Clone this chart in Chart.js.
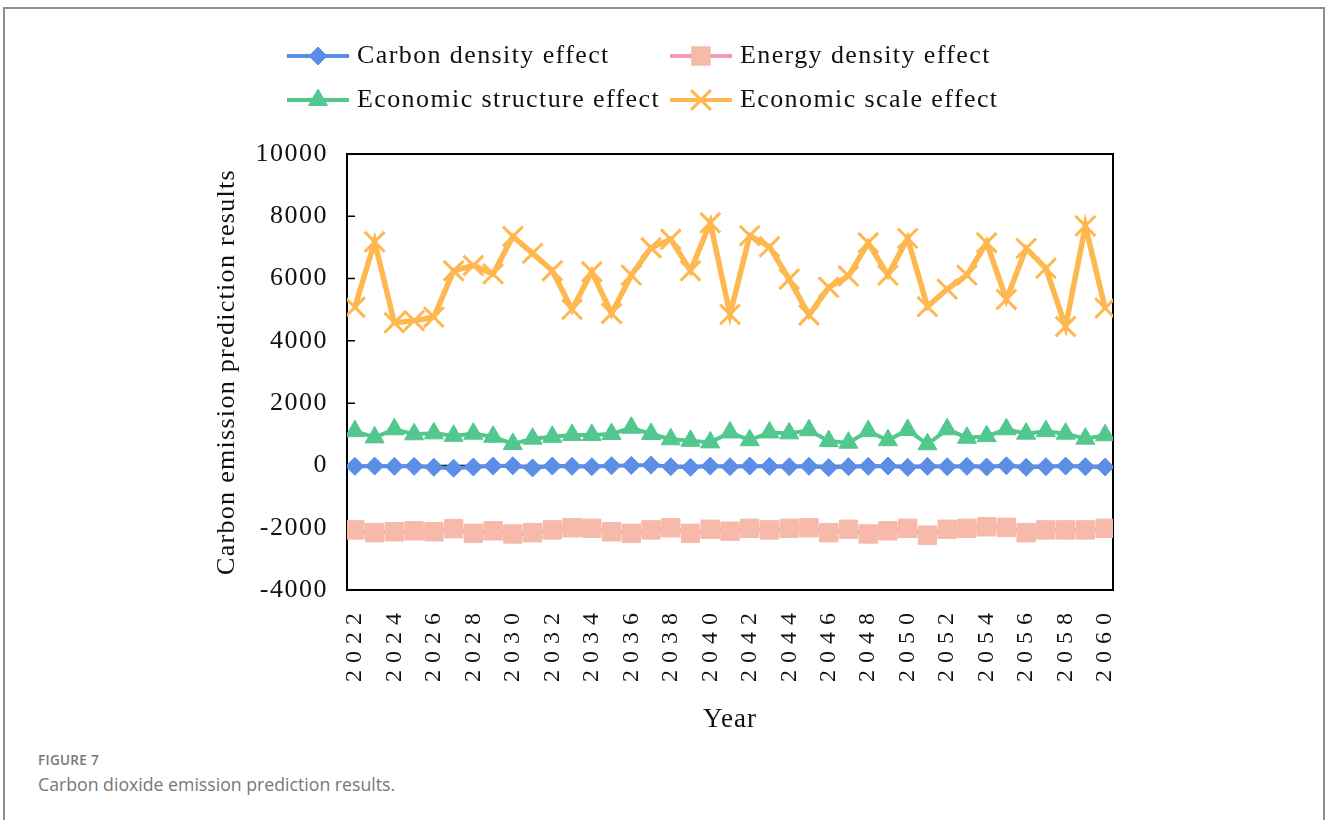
<!DOCTYPE html>
<html>
<head>
<meta charset="utf-8">
<script src="https://cdn.jsdelivr.net/npm/chart.js@4.4.0/dist/chart.umd.min.js"></script>
<style>
  body { margin: 0; background: #fff; width: 1327px; height: 820px; overflow: hidden; position: relative; }
  .frame { position: absolute; left: 3px; top: 7px; width: 1322px; height: 900px; border: 2px solid #8e8e8e; box-sizing: border-box; }
  #chart { position: absolute; left: 0; top: 0; }
  .cap-title { position: absolute; left: 38px; top: 751px; font-family: "Open Sans"; font-size: 13.5px; font-weight: 600; color: #777; letter-spacing: 0.3px; }
  .cap-text { position: absolute; left: 38px; top: 772px; font-family: "Open Sans"; font-size: 17.7px; color: #777; }
</style>
</head>
<body>
<div class="frame"></div>
<canvas id="chart" width="1327" height="740"></canvas>
<div class="cap-title">FIGURE 7</div>
<div class="cap-text">Carbon dioxide emission prediction results.</div>
<script>
// data
const years = [2022, 2023, 2024, 2025, 2026, 2027, 2028, 2029, 2030, 2031,
               2032, 2033, 2034, 2035, 2036, 2037, 2038, 2039, 2040, 2041,
               2042, 2043, 2044, 2045, 2046, 2047, 2048, 2049, 2050, 2051,
               2052, 2053, 2054, 2055, 2056, 2057, 2058, 2059, 2060];
const yearTicks = [2022, 2024, 2026, 2028, 2030, 2032, 2034, 2036, 2038, 2040,
                   2042, 2044, 2046, 2048, 2050, 2052, 2054, 2056, 2058, 2060];
const valueTicks = [-4000, -2000, 0, 2000, 4000, 6000, 8000, 10000];

const carbonDensity = [-30, -20, -30, -30, -60, -90, -50, -20, -10, -80,
                       -20, -30, -40, -10, 0, 10, -40, -60, -20, -40,
                       -20, -30, -40, -30, -70, -40, -30, -20, -60, -30,
                       -40, -30, -50, -10, -60, -40, -20, -40, -50];
const energyDensity = [-2070, -2160, -2130, -2100, -2130, -2030, -2180, -2100, -2200, -2160,
                       -2070, -2000, -2020, -2130, -2180, -2070, -2000, -2180, -2050, -2110,
                       -2020, -2070, -2020, -2000, -2160, -2050, -2200, -2100, -2020, -2240,
                       -2050, -2020, -1970, -1990, -2160, -2070, -2070, -2070, -2020];
const economicStructure = [1100, 900, 1160, 1000, 1030, 950, 1020, 920, 690, 860,
                           920, 980, 980, 1010, 1210, 1010, 840, 790, 740, 1060,
                           810, 1060, 1030, 1130, 780, 730, 1100, 810, 1140, 680,
                           1160, 890, 940, 1160, 1020, 1100, 1020, 860, 970];
const economicScale = [5080, 7180, 4580, 4650, 4760, 6250, 6420, 6150, 7350, 6810,
                       6250, 5010, 6220, 4880, 6110, 6990, 7260, 6250, 7790, 4850,
                       7380, 7020, 5980, 4830, 5720, 6080, 7150, 6110, 7290, 5100,
                       5660, 6110, 7150, 5330, 6970, 6330, 4460, 7690, 5050];

const serif = "'Liberation Serif', 'Times New Roman', serif";

function pts(arr) {
    return years.map((yr, i) => ({ x: yr, y: arr[i] }));
}

// widen the letters a little, like the original export
function spaceOut(scale, labelGap, titleGap) {
    if (scale._spaced) return;
    scale._spaced = true;
    const dl = scale.drawLabels, dt = scale.drawTitle;
    scale.drawLabels = function (a) {
        this.ctx.save(); this.ctx.letterSpacing = labelGap; dl.call(this, a); this.ctx.restore();
    };
    scale.drawTitle = function () {
        this.ctx.save(); this.ctx.letterSpacing = titleGap; dt.call(this); this.ctx.restore();
    };
}

const boxPlugin = {
    id: "boxPlugin",
    beforeDraw(chart) {
        spaceOut(chart.scales.x, "7px", "1px");
        spaceOut(chart.scales.y, "1.5px", "1.3px");
    },
    beforeDatasetsDraw(chart) {
        const { ctx, chartArea: a, scales: { y } } = chart;
        ctx.save();
        ctx.strokeStyle = "#000";
        ctx.lineWidth = 1.5;
        const y0 = y.getPixelForValue(0);
        ctx.beginPath();
        ctx.moveTo(a.left, y0); ctx.lineTo(a.right, y0);
        y.ticks.forEach(t => {
            const py = y.getPixelForValue(t.value);
            ctx.moveTo(a.left, py); ctx.lineTo(a.left + 8, py);
        });
        ctx.stroke();
        ctx.lineWidth = 2;
        ctx.strokeRect(a.left, a.top, a.right - a.left, a.bottom - a.top);
        ctx.restore();
    }
};

// legend laid out as a 2x2 grid
const legendCols = [287, 670];
const legendRows = [56, 100];
const legendPlugin = {
    id: "legendPlugin",
    afterDraw(chart) {
        const ctx = chart.ctx;
        ctx.save();
        chart.data.datasets.forEach((ds, i) => {
            const x0 = legendCols[i % 2], yy = legendRows[Math.floor(i / 2)];
            ctx.strokeStyle = ds.borderColor;
            ctx.lineWidth = 4;
            ctx.beginPath();
            ctx.moveTo(x0, yy); ctx.lineTo(x0 + 62, yy);
            ctx.stroke();
            ctx.fillStyle = ds.pointBackgroundColor;
            ctx.strokeStyle = ds.pointBorderColor;
            ctx.lineWidth = ds.pointBorderWidth;
            Chart.helpers.drawPoint(ctx, { pointStyle: ds.pointStyle, radius: ds.pointRadius, borderWidth: ds.pointBorderWidth, rotation: 0 }, x0 + 31, yy);
            ctx.fillStyle = "#111";
            ctx.font = "26px " + serif;
            ctx.letterSpacing = "1.4px";
            ctx.textBaseline = "middle";
            ctx.textAlign = "left";
            ctx.fillText(ds.label, x0 + 70, yy);
        });
        ctx.restore();
    }
};

new Chart(document.getElementById("chart"), {
    type: "line",
    data: {
        datasets: [
            {
                label: "Carbon density effect",
                data: pts(carbonDensity),
                borderColor: "#5b8ee6", borderWidth: 4,
                pointStyle: "rectRot", pointRadius: 9,
                pointBackgroundColor: "#5b8ee6", pointBorderColor: "#5b8ee6", pointBorderWidth: 1
            },
            {
                label: "Energy density effect",
                data: pts(energyDensity),
                borderColor: "#f19cae", borderWidth: 4,
                pointStyle: "rect", pointRadius: 13,
                pointBackgroundColor: "#f6b9aa", pointBorderColor: "#f6b9aa", pointBorderWidth: 1
            },
            {
                label: "Economic structure effect",
                data: pts(economicStructure),
                borderColor: "#52c78e", borderWidth: 4,
                pointStyle: "triangle", pointRadius: 11,
                pointBackgroundColor: "#52c78e", pointBorderColor: "#52c78e", pointBorderWidth: 1
            },
            {
                label: "Economic scale effect",
                data: pts(economicScale),
                borderColor: "#ffb74f", borderWidth: 5.5,
                pointStyle: "crossRot", pointRadius: 14,
                pointBackgroundColor: "#ffb74f", pointBorderColor: "#ffb74f", pointBorderWidth: 3
            }
        ]
    },
    options: {
        responsive: false,
        animation: false,
        layout: { padding: { left: 208, top: 154, right: 214, bottom: 0 } },
        plugins: { legend: { display: false }, tooltip: { enabled: false } },
        scales: {
            x: {
                type: "linear",
                min: 2021.6,
                max: 2060.4,
                afterBuildTicks: s => { s.ticks = yearTicks.map(v => ({ value: v })); },
                afterFit: s => { s.height = 150; },
                grid: { display: false, drawTicks: false },
                border: { display: false },
                ticks: {
                    autoSkip: false, minRotation: 90, maxRotation: 90, padding: 16,
                    color: "#111", font: { family: serif, size: 24 },
                    callback: v => String(v)
                },
                title: { display: true, text: "Year", color: "#111", font: { family: serif, size: 27 } }
            },
            y: {
                min: -4000,
                max: 10000,
                afterBuildTicks: s => { s.ticks = valueTicks.map(v => ({ value: v })); },
                afterFit: s => { s.width = 139; },
                grid: { display: false, drawTicks: false },
                border: { display: false },
                ticks: {
                    padding: 19, color: "#111", font: { family: serif, size: 26 },
                    callback: v => String(v)
                },
                title: { display: true, text: "Carbon emission prediction results", color: "#111", font: { family: serif, size: 26 } }
            }
        }
    },
    plugins: [boxPlugin, legendPlugin]
});
</script>
</body>
</html>
